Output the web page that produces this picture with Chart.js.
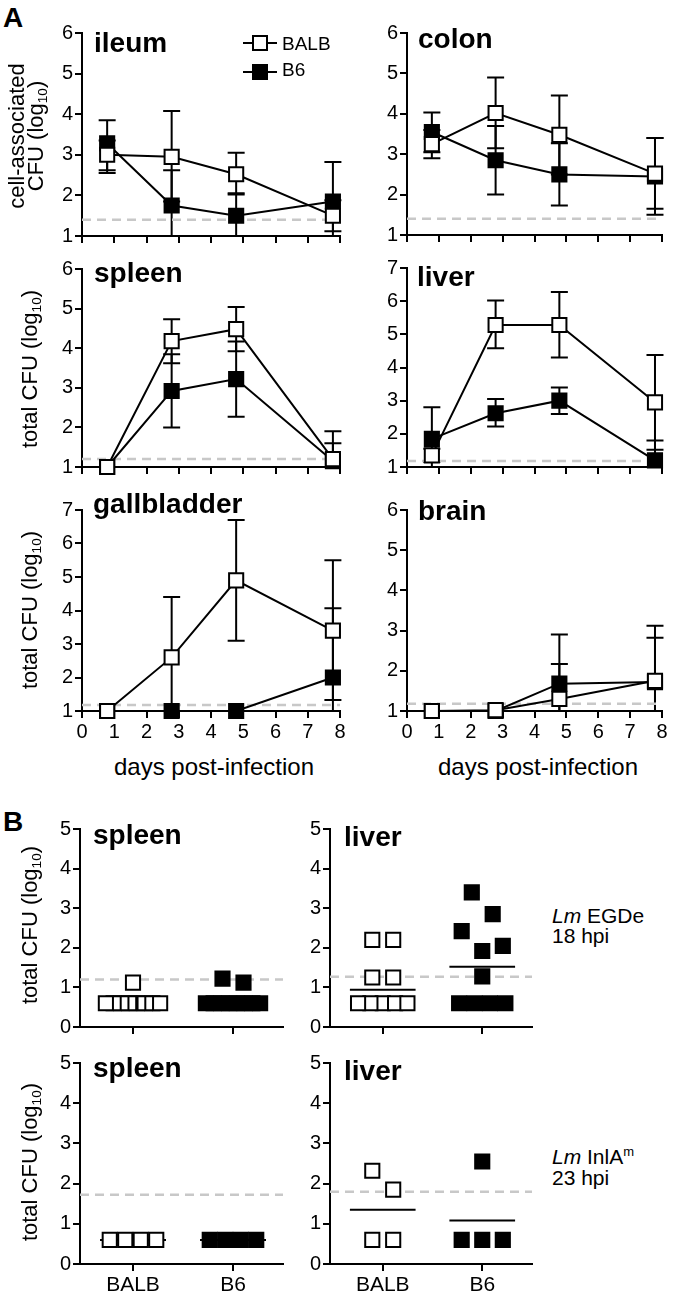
<!DOCTYPE html>
<html>
<head>
<meta charset="utf-8">
<script src="https://cdn.jsdelivr.net/npm/chart.js@4.4.1/dist/chart.umd.min.js"></script>
<style>
  body { margin: 0; background: #fff; }
  #fig { position: relative; width: 680px; height: 1298px; background: #fff; color: #000;
         font-family: "Liberation Sans", Arial, Helvetica, sans-serif; overflow: hidden; }
  #fig canvas { position: absolute; }
  .t { position: absolute; line-height: 1; white-space: nowrap; }
  .panel { font-weight: bold; font-size: 28px; }
  .organ { font-weight: bold; font-size: 28px; }
  .ytitle { font-size: 22px; text-align: center; transform: translate(-50%, -50%) rotate(-90deg); }
  .two { line-height: 19px; }
  .xtitle { font-size: 24px; transform: translateX(-50%); }
  .legend { font-size: 19px; }
  .note { font-size: 21px; }
  .sym { position: absolute; }
  sub { font-size: 0.62em; vertical-align: -0.3em; line-height: 0; }
  sup { font-size: 0.62em; vertical-align: 0.6em; line-height: 0; }
</style>
</head>
<body>
<div id="fig">
  <canvas id="c-ileum"></canvas>
  <canvas id="c-colon"></canvas>
  <canvas id="c-spleen"></canvas>
  <canvas id="c-liver"></canvas>
  <canvas id="c-gall"></canvas>
  <canvas id="c-brain"></canvas>
  <canvas id="c-spleen-egde"></canvas>
  <canvas id="c-liver-egde"></canvas>
  <canvas id="c-spleen-inla"></canvas>
  <canvas id="c-liver-inla"></canvas>

  <div class="t panel" style="left:3px;top:4px">A</div>
  <div class="t panel" style="left:3px;top:808px">B</div>

  <div class="t organ" style="left:94px;top:29px">ileum</div>
  <div class="t organ" style="left:418px;top:25px">colon</div>
  <div class="t organ" style="left:94px;top:259px">spleen</div>
  <div class="t organ" style="left:417px;top:263px">liver</div>
  <div class="t organ" style="left:93px;top:490px">gallbladder</div>
  <div class="t organ" style="left:418px;top:497px">brain</div>
  <div class="t organ" style="left:93px;top:821px">spleen</div>
  <div class="t organ" style="left:344px;top:823px">liver</div>
  <div class="t organ" style="left:93px;top:1054px">spleen</div>
  <div class="t organ" style="left:344px;top:1057px">liver</div>

  <div class="t ytitle two" style="left:26px;top:136px">cell-associated<br>CFU (log<sub>10</sub>)</div>
  <div class="t ytitle" style="left:30px;top:369px">total CFU (log<sub>10</sub>)</div>
  <div class="t ytitle" style="left:30px;top:610px">total CFU (log<sub>10</sub>)</div>
  <div class="t ytitle" style="left:30px;top:925px">total CFU (log<sub>10</sub>)</div>
  <div class="t ytitle" style="left:30px;top:1162px">total CFU (log<sub>10</sub>)</div>

  <div class="t xtitle" style="left:214px;top:755px">days post-infection</div>
  <div class="t xtitle" style="left:538px;top:755px">days post-infection</div>

  <div class="sym" style="left:243px;top:42px;width:34px;height:2px;background:#000"></div>
  <div class="sym" style="left:252px;top:35px;width:12px;height:12px;border:2px solid #000;background:#fff"></div>
  <div class="sym" style="left:243px;top:71px;width:34px;height:2px;background:#000"></div>
  <div class="sym" style="left:252px;top:64px;width:12px;height:12px;border:2px solid #000;background:#000"></div>
  <div class="t legend" style="left:282px;top:34px">BALB</div>
  <div class="t legend" style="left:282px;top:60px">B6</div>

  <div class="t note" style="left:552px;top:905px"><i>Lm</i> EGDe</div>
  <div class="t note" style="left:552px;top:925px">18 hpi</div>
  <div class="t note" style="left:552px;top:1146px"><i>Lm</i> InlA<sup>m</sup></div>
  <div class="t note" style="left:552px;top:1167px">23 hpi</div>
</div>

<script>
const FONT = '"Liberation Sans", Arial, Helvetica, sans-serif';

// ---------- panel A: log10 CFU, mean with lower / upper error-bar ends ----------
const days = [0.78, 2.78, 4.78, 7.78];

const ileumBALB = [3.0, 2.95, 2.52, 1.5];
const ileumBALBLo = [2.55, 1.85, 2.02, 1.12];
const ileumBALBHi = [3.35, 4.08, 3.05, 1.88];
const ileumB6 = [3.28, 1.75, 1.5, 1.85];
const ileumB6Lo = [2.62, 0.9, 0.97, 0.88];
const ileumB6Hi = [3.85, 2.62, 2.05, 2.82];

const colonBALB = [3.25, 4.02, 3.48, 2.52];
const colonBALBLo = [2.9, 3.15, 2.5, 1.65];
const colonBALBHi = [3.6, 4.9, 4.45, 3.4];
const colonB6 = [3.55, 2.85, 2.5, 2.45];
const colonB6Lo = [3.05, 2.0, 1.73, 1.5];
const colonB6Hi = [4.03, 3.7, 3.27, 3.4];

const spleenBALB = [1.0, 4.18, 4.48, 1.2];
const spleenBALBLo = [1.0, 3.62, 3.92, 0.5];
const spleenBALBHi = [1.0, 4.73, 5.04, 1.9];
const spleenB6 = [1.0, 2.92, 3.22, 1.15];
const spleenB6Lo = [1.0, 2.0, 2.27, 0.7];
const spleenB6Hi = [1.0, 3.85, 4.17, 1.6];

const liverBALB = [1.35, 5.28, 5.28, 2.95];
const liverBALBLo = [1.15, 4.58, 4.3, 1.52];
const liverBALBHi = [1.55, 6.02, 6.28, 4.38];
const liverB6 = [1.85, 2.62, 3.0, 1.2];
const liverB6Lo = [0.9, 2.22, 2.6, 0.6];
const liverB6Hi = [2.8, 3.05, 3.4, 1.8];

const gallBALB = [1.0, 2.6, 4.9, 3.4];
const gallBALBLo = [1.0, 0.8, 3.1, 1.33];
const gallBALBHi = [1.0, 4.4, 6.7, 5.5];
const gallB6 = [1.0, 1.0, 1.0, 2.0];
const gallB6Lo = [1.0, 1.0, 1.0, 0.0];
const gallB6Hi = [1.0, 1.0, 1.0, 4.07];

const brainBALB = [1.0, 1.02, 1.3, 1.75];
const brainBALBLo = [1.0, 1.02, 0.43, 0.38];
const brainBALBHi = [1.0, 1.02, 2.17, 3.12];
const brainB6 = [1.0, 1.0, 1.68, 1.72];
const brainB6Lo = [1.0, 1.0, 0.46, 0.62];
const brainB6Hi = [1.0, 1.0, 2.9, 2.82];

// detection limits (grey dashed), order: ileum, colon, spleen, liver, gallbladder, brain
const limitA = [1.4, 1.4, 1.2, 1.18, 1.18, 1.18];
const yTopA = [6, 6, 6, 7, 7, 6];

// ---------- panel B: individual mice, log10 CFU ----------
const strains = ['BALB', 'B6'];
const spleenEgdeBALB = [1.12, 0.6, 0.6, 0.6, 0.6, 0.6, 0.6, 0.6, 0.6];
const spleenEgdeB6 = [1.22, 1.12, 0.6, 0.6, 0.6, 0.6, 0.6, 0.6, 0.6, 0.6];
const liverEgdeBALB = [2.2, 2.2, 1.25, 1.25, 0.6, 0.6, 0.6, 0.6, 0.6];
const liverEgdeB6 = [3.4, 2.85, 2.42, 2.05, 1.92, 1.28, 0.6, 0.6, 0.6, 0.6];
const spleenInlaBALB = [0.6, 0.6, 0.6, 0.6];
const spleenInlaB6 = [0.6, 0.6, 0.6, 0.6];
const liverInlaBALB = [2.32, 1.85, 0.6, 0.6];
const liverInlaB6 = [2.55, 0.6, 0.6, 0.6];

const spleenEgdeMean = [0.64, 0.7];
const liverEgdeMean = [0.94, 1.52];
const spleenInlaMean = [0.6, 0.6];
const liverInlaMean = [1.35, 1.08];

// order: spleen EGDe, liver EGDe, spleen InlAm, liver InlAm
const limitB = [1.2, 1.27, 1.72, 1.8];

// ---------- layout ----------
const YW = 40;      // room for y tick labels
const PAD_T = 16;
const PAD_R = 18;

const errorBars = {
  id: 'errorBars',
  beforeDatasetsDraw(chart) {
    const { ctx, chartArea: a, scales } = chart;
    ctx.save();
    ctx.beginPath();
    ctx.rect(a.left - 20, a.top - 30, a.right - a.left + 40, a.bottom - a.top + 30);
    ctx.clip();
    ctx.strokeStyle = '#000';
    ctx.lineWidth = 2;
    chart.data.datasets.forEach((ds) => {
      if (!ds.errLo) return;
      ds.data.forEach((p, i) => {
        if (ds.errLo[i] === ds.errHi[i]) return;
        const x = scales.x.getPixelForValue(p.x);
        const lo = scales.y.getPixelForValue(ds.errLo[i]);
        const hi = scales.y.getPixelForValue(ds.errHi[i]);
        ctx.beginPath();
        ctx.moveTo(x, lo); ctx.lineTo(x, hi);
        ctx.moveTo(x - 8.5, hi); ctx.lineTo(x + 8.5, hi);
        ctx.moveTo(x - 8.5, lo); ctx.lineTo(x + 8.5, lo);
        ctx.stroke();
      });
    });
    ctx.restore();
  },
};

function axis(min, max, showLabels) {
  return {
    type: 'linear',
    min,
    max,
    border: { color: '#000', width: 2 },
    grid: { drawOnChartArea: false, color: '#000', lineWidth: 2, tickLength: 7 },
    ticks: { stepSize: 1, color: '#000', padding: 2, display: showLabels, font: { family: FONT, size: 20 } },
  };
}

function makeChart(id, plot, xh, xScale, yScale, datasets, plugins) {
  const c = document.getElementById(id);
  const w = YW + plot.w + PAD_R;
  const h = PAD_T + plot.h + xh;
  c.style.left = `${plot.x - YW}px`;
  c.style.top = `${plot.y - PAD_T}px`;
  c.style.width = `${w}px`;
  c.style.height = `${h}px`;
  c.width = w;
  c.height = h;
  xScale.afterFit = (s) => { s.height = xh; };
  yScale.afterFit = (s) => { s.width = YW; };
  return new Chart(c, {
    type: 'scatter',
    data: { datasets },
    options: {
      responsive: false,
      animation: false,
      devicePixelRatio: 1,
      events: [],
      layout: { autoPadding: false, padding: { top: PAD_T, right: PAD_R, left: 0, bottom: 0 } },
      plugins: { legend: { display: false }, tooltip: { enabled: false } },
      scales: { x: xScale, y: yScale },
    },
    plugins: plugins || [],
  });
}

function limitLine(y, x0, x1) {
  return {
    data: [{ x: x0, y }, { x: x1, y }],
    showLine: true,
    borderColor: '#c8c8c8',
    borderWidth: 2.5,
    borderDash: [9, 6],
    pointRadius: 0,
    clip: false,
    order: 5,
  };
}

function series(vals, lo, hi, fill) {
  return {
    data: days.map((d, i) => ({ x: d, y: vals[i] })),
    errLo: lo,
    errHi: hi,
    showLine: true,
    borderColor: '#000',
    borderWidth: 2,
    pointStyle: 'rect',
    pointRadius: 10,
    pointBorderWidth: 2,
    pointBackgroundColor: fill,
    pointBorderColor: '#000',
    clip: false,
    order: 0,
  };
}

function timeCourse(id, plot, showX, yTop, limit, balb, balbLo, balbHi, b6, b6Lo, b6Hi) {
  makeChart(id, plot, showX ? 40 : 12, axis(0, 8, showX), axis(1, yTop, true), [
    series(balb, balbLo, balbHi, '#fff'),
    series(b6, b6Lo, b6Hi, '#000'),
    limitLine(limit, 0, 8),
  ], [errorBars]);
}

// scatter layout: equal values form a centred row; nearby single values share a row too
function swarm(values, center) {
  const count = (v) => values.filter((u) => u === v).length;
  const sorted = [...values].sort((a, b) => a - b);
  const groups = [];
  sorted.forEach((v) => {
    const g = groups[groups.length - 1];
    const gIsRow = g && count(g[0]) > 1;
    if (g && gIsRow && g[0] === v) g.push(v);
    else if (g && !gIsRow && count(v) === 1 && v - g[0] < 0.6) g.push(v);
    else groups.push([v]);
  });
  const placed = [];
  groups.forEach((g) => {
    const n = g.length;
    const step = Math.min(0.21, 0.62 / n);
    const offs = g.map((_, i) => (i - (n - 1) / 2) * step)
      .sort((a, b) => Math.abs(a) - Math.abs(b) || b - a);
    g.forEach((v, i) => placed.push({ x: center + offs[i], y: v }));
  });
  return placed;
}

function dots(values, center, fill) {
  return {
    data: swarm(values, center),
    pointStyle: 'rect',
    pointRadius: 10,
    pointBorderWidth: 2,
    pointBackgroundColor: fill,
    pointBorderColor: '#000',
    clip: false,
    order: 0,
  };
}

function meanLine(center, m) {
  return {
    data: [{ x: center - 0.33, y: m }, { x: center + 0.33, y: m }],
    showLine: true,
    borderColor: '#000',
    borderWidth: 2,
    pointRadius: 0,
    clip: false,
    order: 1,
  };
}

function dotPlot(id, plot, showX, limit, balb, b6, means) {
  const xs = axis(-0.53, 1.5, showX);
  xs.afterBuildTicks = (s) => { s.ticks = [{ value: 0 }, { value: 1 }]; };
  xs.ticks.callback = (v) => strains[v];
  xs.ticks.font.size = 21;
  makeChart(id, plot, showX ? 36 : 12, xs, axis(0, 5, true), [
    dots(balb, 0, '#fff'),
    dots(b6, 1, '#000'),
    meanLine(0, means[0]),
    meanLine(1, means[1]),
    limitLine(limit, -0.53, 1.5),
  ]);
}

timeCourse('c-ileum', { x: 82, y: 33, w: 258, h: 205 }, false, yTopA[0], limitA[0],
  ileumBALB, ileumBALBLo, ileumBALBHi, ileumB6, ileumB6Lo, ileumB6Hi);
timeCourse('c-colon', { x: 407, y: 33, w: 255, h: 204 }, false, yTopA[1], limitA[1],
  colonBALB, colonBALBLo, colonBALBHi, colonB6, colonB6Lo, colonB6Hi);
timeCourse('c-spleen', { x: 82, y: 269, w: 258, h: 200 }, false, yTopA[2], limitA[2],
  spleenBALB, spleenBALBLo, spleenBALBHi, spleenB6, spleenB6Lo, spleenB6Hi);
timeCourse('c-liver', { x: 407, y: 268, w: 255, h: 201 }, false, yTopA[3], limitA[3],
  liverBALB, liverBALBLo, liverBALBHi, liverB6, liverB6Lo, liverB6Hi);
timeCourse('c-gall', { x: 82, y: 510, w: 258, h: 201 }, true, yTopA[4], limitA[4],
  gallBALB, gallBALBLo, gallBALBHi, gallB6, gallB6Lo, gallB6Hi);
timeCourse('c-brain', { x: 407, y: 510, w: 255, h: 201 }, true, yTopA[5], limitA[5],
  brainBALB, brainBALBLo, brainBALBHi, brainB6, brainB6Lo, brainB6Hi);

dotPlot('c-spleen-egde', { x: 80, y: 829, w: 203, h: 200 }, false, limitB[0], spleenEgdeBALB, spleenEgdeB6, spleenEgdeMean);
dotPlot('c-liver-egde', { x: 330, y: 829, w: 202, h: 200 }, false, limitB[1], liverEgdeBALB, liverEgdeB6, liverEgdeMean);
dotPlot('c-spleen-inla', { x: 80, y: 1063, w: 203, h: 201 }, true, limitB[2], spleenInlaBALB, spleenInlaB6, spleenInlaMean);
dotPlot('c-liver-inla', { x: 330, y: 1063, w: 202, h: 201 }, true, limitB[3], liverInlaBALB, liverInlaB6, liverInlaMean);
</script>
</body>
</html>
